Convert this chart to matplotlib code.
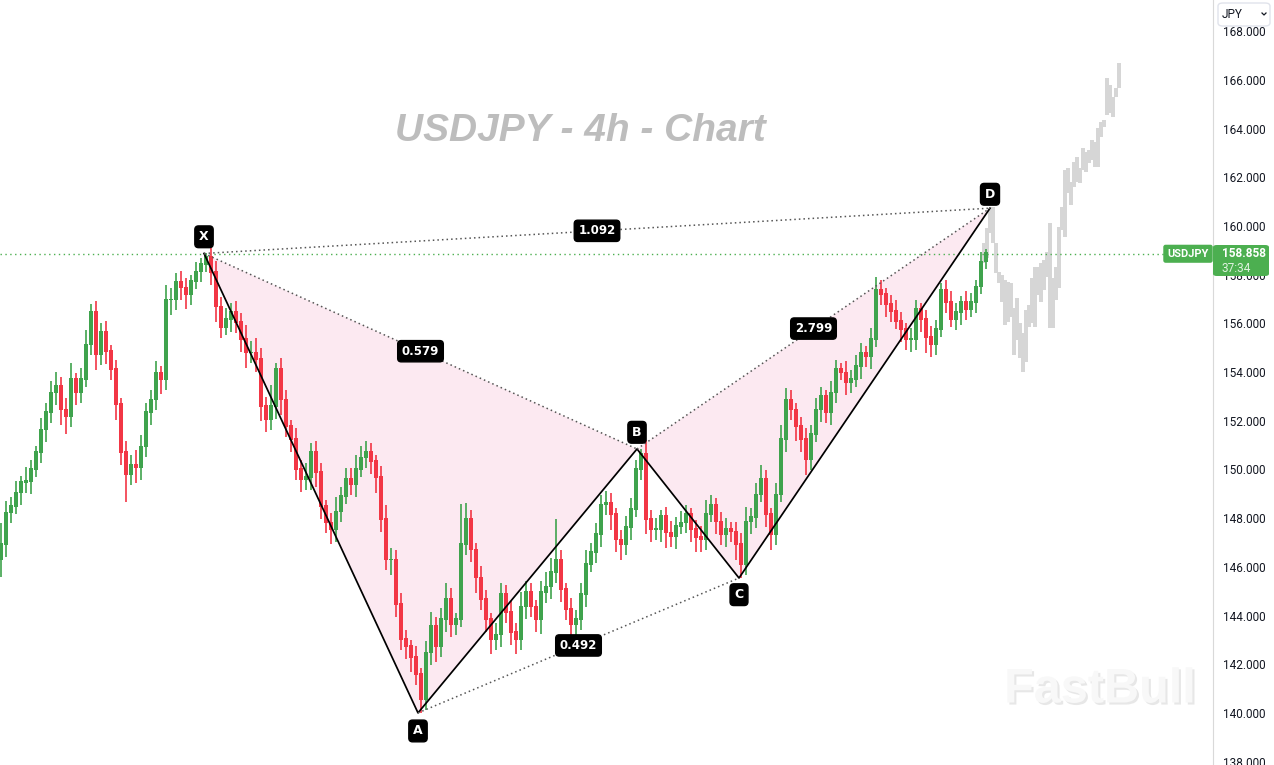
import numpy as np
import matplotlib.pyplot as plt
import matplotlib.patheffects as pe
from matplotlib.patches import FancyBboxPatch, Polygon
from matplotlib.lines import Line2D

# 4h closes, one bar per slot (USDJPY)
closes = [
    146.90, 148.21, 148.46, 149.03, 149.45, 149.49, 149.98, 150.68, 151.62, 152.32,
    153.14, 153.39, 152.44, 152.16, 153.68, 153.14, 153.68, 155.11, 156.43, 154.70,
    155.61, 154.83, 154.09, 152.65, 150.68, 149.77, 150.18, 150.06, 150.92, 152.32,
    152.85, 153.96, 153.68, 156.96, 156.96, 157.66, 157.45, 157.17, 157.70, 158.11,
    158.40, 158.69, 158.07, 156.67, 155.81, 156.14, 156.43, 156.02, 155.32, 154.78,
    154.78, 154.50, 152.57, 152.03, 152.57, 154.09, 152.85, 151.75, 151.21, 149.98,
    149.57, 149.65, 150.68, 149.86, 148.46, 147.80, 147.52, 148.25, 148.87, 149.57,
    149.36, 149.98, 150.47, 150.68, 150.31, 149.65, 147.93, 146.28, 146.28, 144.44,
    143.00, 142.71, 142.26, 141.56, 140.53, 142.46, 143.53, 142.71, 143.82, 144.64,
    143.61, 143.82, 146.90, 147.93, 146.69, 145.54, 144.64, 143.82, 143.00, 143.20,
    144.85, 144.11, 143.29, 143.00, 144.35, 144.93, 144.35, 143.82, 144.93, 145.17,
    145.75, 146.28, 145.05, 144.23, 143.61, 143.82, 144.85, 146.08, 146.57, 147.31,
    148.54, 148.62, 148.13, 147.10, 146.90, 147.60, 148.34, 149.98, 150.60, 147.93,
    147.52, 147.52, 148.05, 147.39, 147.23, 147.64, 147.80, 148.13, 147.52, 147.19,
    147.10, 148.13, 148.54, 147.84, 147.31, 147.52, 147.43, 146.90, 146.08, 147.84,
    148.01, 148.95, 149.57, 148.13, 147.31, 148.95, 151.21, 152.85, 152.44, 151.75,
    151.21, 150.39, 151.42, 152.44, 152.98, 152.32, 153.14, 154.09, 153.96, 153.55,
    153.68, 154.21, 154.78, 154.62, 155.32, 157.37, 157.17, 156.76, 156.47, 156.06,
    155.73, 155.32, 155.32, 156.55, 156.14, 155.40, 155.11, 155.73, 157.37, 156.84,
    156.14, 156.43, 156.84, 156.55, 156.84, 157.49, 158.52, 158.858,
]
first_open = 146.30

wick_up = [
    0.9, 0.5, 0.4, 0.5, 0.3, 0.6, 0.4, 0.3, 0.5, 0.4,
    0.5, 0.6, 0.4, 0.5, 0.7, 0.3, 0.5, 0.6, 0.35, 0.5,
    0.4, 0.5, 0.3, 0.4, 0.3, 0.5, 0.4, 0.6, 0.5, 0.4,
    0.4, 0.5, 0.3, 0.6, 0.5, 0.4, 0.5, 0.4, 0.3, 0.4,
    0.3, 0.18, 0.4, 0.5, 0.4, 0.5, 0.4, 0.5, 0.4, 0.6,
    0.5, 0.6, 0.5, 0.4, 0.9, 0.3, 0.5, 0.4, 0.3, 0.5,
    0.4, 0.6, 0.4, 0.5, 0.4, 0.3, 0.4, 0.6, 0.4, 0.5,
    0.5, 0.6, 0.5, 0.5, 0.4, 0.3, 0.5, 0.6, 0.5, 0.4,
    0.5, 0.4, 0.3, 0.5, 0.3, 0.5, 0.6, 0.4, 0.5, 0.7,
    0.5, 0.3, 1.7, 0.7, 0.4, 0.3, 0.5, 0.4, 0.3, 0.5,
    0.5, 0.4, 0.5, 0.4, 0.6, 0.5, 0.4, 0.3, 0.5, 0.6,
    0.6, 1.7, 0.4, 0.3, 0.5, 0.4, 0.5, 0.6, 0.4, 0.5,
    0.4, 0.5, 0.4, 0.3, 0.4, 0.5, 0.5, 0.4, 0.24, 0.6,
    0.4, 0.5, 0.3, 0.4, 0.5, 0.4, 0.5, 0.4, 0.3, 0.4,
    0.5, 0.6, 0.4, 0.3, 0.4, 0.5, 0.3, 0.4, 0.5, 0.6,
    0.4, 0.5, 0.6, 0.4, 0.3, 0.5, 0.6, 0.5, 0.4, 0.3,
    0.4, 0.5, 0.4, 0.5, 0.4, 0.3, 0.5, 0.4, 0.3, 0.5,
    0.4, 0.5, 0.4, 0.3, 0.5, 0.53, 0.4, 0.3, 0.4, 0.5,
    0.4, 0.3, 0.5, 0.4, 0.3, 0.4, 0.5, 0.4, 0.3, 0.4,
    0.5, 0.4, 0.3, 0.5, 0.4, 0.3, 0.4, 0.2,
]
wick_dn = [
    0.7, 0.5, 0.4, 0.3, 0.5, 0.4, 0.5, 0.3, 0.4, 0.5,
    0.4, 0.5, 0.6, 0.7, 0.4, 0.5, 0.4, 0.3, 0.4, 0.6,
    0.4, 0.5, 0.4, 0.6, 0.5, 1.1, 0.4, 0.6, 0.5, 0.4,
    0.5, 0.4, 0.6, 0.4, 0.6, 0.4, 0.5, 0.6, 0.4, 0.3,
    0.4, 0.3, 0.5, 0.6, 0.4, 0.3, 0.5, 0.4, 0.5, 0.6,
    0.4, 0.5, 0.6, 0.5, 0.4, 0.5, 0.6, 0.4, 0.5, 0.4,
    0.5, 0.4, 0.5, 0.6, 0.5, 0.4, 0.6, 0.5, 0.4, 0.3,
    0.4, 0.5, 0.3, 0.4, 0.5, 0.6, 0.5, 0.4, 0.6, 0.5,
    0.4, 0.5, 0.6, 0.4, 0.53, 0.4, 0.5, 0.6, 0.4, 0.5,
    0.5, 0.4, 0.3, 0.4, 0.5, 0.6, 0.4, 0.5, 0.6, 0.4,
    0.5, 0.4, 0.5, 0.6, 0.4, 0.5, 0.4, 0.5, 0.6, 0.4,
    0.5, 0.4, 0.5, 0.4, 0.8, 0.5, 0.4, 0.5, 0.3, 0.4,
    0.5, 0.4, 0.6, 0.5, 0.6, 0.4, 0.5, 0.3, 0.4, 0.6,
    0.5, 0.4, 0.5, 0.6, 0.4, 0.5, 0.3, 0.4, 0.5, 0.6,
    0.5, 0.4, 0.3, 0.5, 0.4, 0.5, 0.4, 0.6, 0.54, 0.4,
    0.5, 0.4, 0.3, 0.5, 0.6, 0.4, 0.3, 0.5, 0.4, 0.6,
    0.5, 0.6, 0.4, 0.3, 0.5, 0.4, 0.5, 0.4, 0.3, 0.5,
    0.4, 0.3, 0.5, 0.4, 0.5, 0.3, 0.4, 0.5, 0.4, 0.3,
    0.5, 0.4, 0.5, 0.4, 0.5, 0.6, 0.5, 0.4, 0.3, 0.4,
    0.3, 0.4, 0.5, 0.4, 0.3, 0.4, 0.3, 0.3,
]

# projected path (grey bars after D)
proj_high = [
    159.30, 159.92, 160.74, 160.78, 159.30, 158.11, 157.99, 157.78, 157.70, 157.66,
    156.63, 157.04, 156.02, 155.61, 156.55, 156.76, 157.86, 158.32, 158.32, 158.48,
    158.60, 158.93, 160.12, 157.86, 158.32, 159.96, 160.78, 162.30, 162.38, 161.81,
    162.63, 162.83, 162.38, 163.20, 163.04, 163.12, 163.53, 163.45, 164.02, 164.27,
    164.35, 166.08, 165.79, 165.30, 165.67, 166.69,
]
proj_low = [
    158.48, 158.69, 159.71, 159.30, 158.07, 157.66, 156.88, 155.93, 156.06, 156.26,
    154.70, 155.32, 154.58, 154.00, 154.41, 155.85, 156.02, 155.85, 157.17, 156.88,
    157.37, 157.91, 155.81, 155.81, 156.96, 157.45, 159.84, 159.55, 161.36, 160.86,
    161.60, 161.81, 161.77, 162.30, 162.22, 162.59, 162.71, 162.42, 162.42, 163.66,
    164.07, 164.56, 164.64, 164.48, 165.30, 165.67,
]

# harmonic pattern pivots
pattern_names = ['X', 'A', 'B', 'C', 'D']
pattern_bar = [40.6, 83.4, 127.2, 147.6, 197.8]
pattern_price = [158.87, 140.00, 150.84, 145.54, 160.73]
ratio_pairs = [(0, 2), (1, 3), (2, 4), (0, 4)]
ratio_text = ['0.579', '0.492', '2.799', '1.092']

last_price = 158.858
countdown = '37:34'
symbol = 'USDJPY'
y_ticks = np.arange(138, 169, 2)

W, H = 1274, 765
RED, GREEN = '#f23645', '#3fa34d'

closes = np.array(closes)
opens = np.r_[first_open, closes[:-1]]
highs = np.maximum(opens, closes) + np.array(wick_up)
lows = np.minimum(opens, closes) - np.array(wick_dn)
idx = np.arange(len(closes))
cols = np.where(closes >= opens, GREEN, RED)

fig = plt.figure(figsize=(W / 100, H / 100), dpi=100)
ax = fig.add_axes([0, 0, 1213 / W, 1])
ax.set_xlim(-0.2, 242.4)
ax.set_ylim(137.86, 169.28)

# pattern fill
px, py = pattern_bar, pattern_price
ax.add_patch(Polygon([(px[0], py[0]), (px[1], py[1]), (px[2], py[2])],
                     closed=True, fc='#fce9f1', ec='none', zorder=1))
ax.add_patch(Polygon([(px[2], py[2]), (px[3], py[3]), (px[4], py[4])],
                     closed=True, fc='#fce9f1', ec='none', zorder=1))

# projection bars
proj_x = len(closes) - 1.5 + 0.604 * np.arange(len(proj_high))
ax.bar(proj_x, np.array(proj_high) - np.array(proj_low), bottom=proj_low,
       width=0.8, color='#d6d6d6', linewidth=0, zorder=1.5)

# candles
ax.vlines(idx, lows, highs, colors=cols, lw=1.2, zorder=3)
ax.bar(idx, np.abs(closes - opens) + 0.06, bottom=np.minimum(opens, closes),
       width=0.72, color=cols, linewidth=0, zorder=3)

# pattern legs
ax.plot(px, py, color='black', lw=1.25, zorder=4)
for (i, j), t in zip(ratio_pairs, ratio_text):
    ax.plot([px[i], px[j]], [py[i], py[j]], color='#555555', lw=1.1,
            ls=(0, (1, 2)), zorder=4)
    ax.text((px[i] + px[j]) / 2, (py[i] + py[j]) / 2, t, color='white',
            fontsize=8.5, fontweight='bold', ha='center', va='center',
            family='DejaVu Sans', zorder=6,
            bbox=dict(boxstyle='round,pad=0.35,rounding_size=0.3',
                      fc='black', ec='black'))

offsets = [12, -13, 12, -12, 10]
for n, x, y, o in zip(pattern_names, px, py, offsets):
    ax.annotate(n, (x, y), xytext=(0, o), textcoords='offset points',
                color='white', fontsize=9, fontweight='bold', ha='center',
                va='center', zorder=6,
                bbox=dict(boxstyle='round,pad=0.35,rounding_size=0.3',
                          fc='black', ec='black'))

# last price line
ax.axhline(last_price, xmax=1165 / 1213, color='#4caf50', lw=1,
           ls=(0, (1, 2.5)), zorder=2)
ax.text(1188 / 1213, last_price, symbol, transform=ax.get_yaxis_transform(),
        color='white', fontsize=8, fontweight='bold', ha='center',
        va='center', family='Roboto', zorder=7,
        bbox=dict(boxstyle='round,pad=0.3,rounding_size=0.15',
                  fc='#4caf50', ec='#4caf50'))

# axes styling
for s in ['left', 'top', 'bottom']:
    ax.spines[s].set_visible(False)
ax.spines['right'].set_color('#d9d9d9')
ax.set_xticks([])
ax.yaxis.tick_right()
ax.set_yticks(y_ticks)
ax.set_yticklabels([f'{v:.3f}' for v in y_ticks])
ax.tick_params(axis='y', length=0, pad=7, labelsize=8.5, labelcolor='#131722')
for lab in ax.get_yticklabels():
    lab.set_family('Roboto')

# price tag on axis
fig.add_artist(FancyBboxPatch((1213 / W, 1 - 276 / H), 56 / W, 31 / H,
                              boxstyle='round,pad=0,rounding_size=0.003',
                              fc='#4caf50', ec='none', transform=fig.transFigure))
fig.text(1222 / W, 1 - 254 / H, f'{last_price:.3f}', color='white', fontsize=8.5,
         fontweight='bold', family='Roboto', va='center', ha='left')
fig.text(1222 / W, 1 - 268 / H, countdown, color='#dff2df', fontsize=8.5,
         family='Roboto', va='center', ha='left')

# currency selector
fig.add_artist(FancyBboxPatch((1218 / W, 1 - 26 / H), 52 / W, 23 / H,
                              boxstyle='round,pad=0,rounding_size=0.004',
                              fc='white', ec='#e0e3eb', lw=1,
                              transform=fig.transFigure))
fig.text(1222 / W, 1 - 14 / H, 'JPY', color='#131722', fontsize=8.5,
         family='Roboto', va='center', ha='left')
fig.add_artist(Line2D([1262 / W, 1264 / W, 1266 / W],
                      [1 - 13 / H, 1 - 15 / H, 1 - 13 / H],
                      color='#131722', lw=0.9, transform=fig.transFigure))

# watermarks
fig.text(580 / W, 1 - 131 / H, 'USDJPY - 4h - Chart', color='#bdbdbd',
         fontsize=28, fontweight='bold', style='italic',
         family='Liberation Sans', ha='center', va='center')
fig.text(1100 / W, 1 - 690 / H, 'FastBull', color='#f8f8f8', fontsize=35,
         fontweight='bold', family='Liberation Sans', ha='center', va='center',
         path_effects=[pe.SimplePatchShadow(offset=(1.5, -1.5),
                                            shadow_rgbFace='#d0d0d0', alpha=0.5),
                       pe.Normal()])

fig.savefig('out.png', dpi=100)
